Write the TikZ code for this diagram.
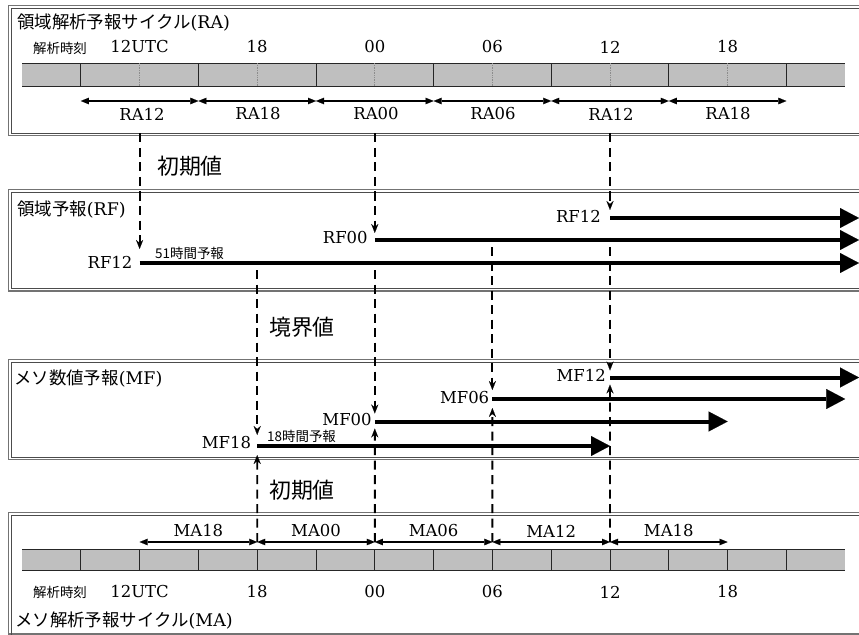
\documentclass[tikz,border=0pt]{standalone}
\usepackage{fontspec}
\setmainfont{DejaVu Serif}
\newfontfamily\jp{Noto Sans CJK JP}
\usetikzlibrary{arrows.meta,calc}
\begin{document}
\begin{tikzpicture}[x=1bp,y=-1bp,
  pouter/.style={draw=black!55, line width=1.3bp},
  pinner/.style={draw=black!70, line width=0.7bp},
  barfill/.style={fill=black!25},
  barline/.style={draw=black!85, line width=0.9bp},
  minor/.style={draw=black!45, line width=0.7bp, densely dotted},
  ttl/.style={inner sep=0, anchor=west, font=\fontsize{16.5}{20}\selectfont},
  tm/.style={inner sep=0, font=\fontsize{16.5}{20}\selectfont},
  tag/.style={inner sep=0, font=\jp\fontsize{13.5}{15}\selectfont},
  big/.style={inner sep=0, font=\jp\fontsize{22}{24}\selectfont},
  fc/.style={line width=4bp, -{Triangle[length=19bp,width=20bp,line width=0.1bp]}},
  feed/.style={line width=1.9bp, dash pattern=on 9bp off 5.5bp, -{Stealth[length=9bp,width=7bp,inset=3bp,line width=0.1bp]}},
  span/.style={line width=1.3bp, {Triangle[length=8bp,width=6.5bp,line width=0.1bp]}-{Triangle[length=8bp,width=6.5bp,line width=0.1bp]}},
]
\useasboundingbox (0,0) rectangle (859,635);
\clip (0,0) rectangle (859,635);
\fill[white] (0,0) rectangle (859,635);

% ---------- panels ----------
\draw[pouter] (8.5,5.5) rectangle (890,135.5);
\draw[pinner] (11,8) rectangle (890,133);
\draw[pouter] (8.5,189.5) rectangle (890,291);
\draw[pinner] (11,192) rectangle (890,288.5);
\draw[pouter] (8.5,359.5) rectangle (890,459.5);
\draw[pinner] (11,362) rectangle (890,457);
\draw[pouter] (8.5,512.5) rectangle (890,634);
\draw[pinner] (11,515) rectangle (890,660);

% ---------- RA panel ----------
\node[ttl, font=\fontsize{17.5}{20}\selectfont] (raT) at (17,23) {{\jp 領域解析予報サイクル}(RA)};
\fill[barfill] (22,63.3) rectangle (845.2,86.7);
\draw[barline] (22,63.3) -- (845.2,63.3) (22,86.7) -- (845.2,86.7);
\foreach \k in {1,3,...,13} \draw[barline] ({22+58.8*\k},63.3) -- ++(0,23.4);
\foreach \k in {2,4,...,12} \draw[minor] ({22+58.8*\k},63.3) -- ++(0,23.4);

\node[tag] (raJ) at (60,48) {解析時刻};
\node[tm] (raH12) at (139.6,47) {12UTC};
\node[tm] (raH18) at (257.2,47) {18};
\node[tm] (raH00) at (374.8,47) {00};
\node[tm] (raH06) at (492.4,47) {06};
\node[tm] (raH12b) at (610,47) {12};
\node[tm] (raH18b) at (727.6,47) {18};

\foreach \k in {1,3,...,13} \coordinate (ra\k) at ({22+58.8*\k},101);
\draw[span] (ra1) -- (ra3);
\draw[span] (ra3) -- (ra5);
\draw[span] (ra5) -- (ra7);
\draw[span] (ra7) -- (ra9);
\draw[span] (ra9) -- (ra11);
\draw[span] (ra11) -- (ra13);
\node[tm] (raL1) at (142,114) {RA12};
\node[tm] (raL2) at (258,114) {RA18};
\node[tm] (raL3) at (376,114) {RA00};
\node[tm] (raL4) at (493,114) {RA06};
\node[tm] (raL5) at (611,114) {RA12};
\node[tm] (raL6) at (728,114) {RA18};

\coordinate (raf12) at (139.6,133.5);
\coordinate (raf00) at (374.8,133.5);
\coordinate (raf12b) at (610,133.5);

\node[big] (init1) at (190,166) {初期値};

% ---------- RF panel ----------
\node[ttl, font=\fontsize{17.5}{20}\selectfont] (rfT) at (17,210) {{\jp 領域予報}(RF)};
\coordinate (rf12) at (139.6,263);
\coordinate (rf00) at (374.8,240);
\coordinate (rf12b) at (610,218);
\coordinate (rfe1) at (859,263);
\coordinate (rfe2) at (859,240);
\coordinate (rfe3) at (859,218);
\draw[fc] (rf12) -- (rfe1);
\draw[fc] (rf00) -- (rfe2);
\draw[fc] (rf12b) -- (rfe3);
\node[tm, anchor=east] (rfL1) at ($(rf12)+(-7,-1)$) {RF12};
\node[tm, anchor=east] (rfL2) at ($(rf00)+(-7,-2)$) {RF00};
\node[tm, anchor=east] (rfL3) at ($(rf12b)+(-9,-2)$) {RF12};
\node[tag, anchor=west] (rfN) at (155,253) {51時間予報};

\draw[feed] (raf12) -- ($(rf12)+(0,-14)$);
\draw[feed] (raf00) -- ($(rf00)+(0,-7)$);
\draw[feed] (raf12b) -- ($(rf12b)+(0,-8)$);

\coordinate (rfb18) at (257.2,270);
\coordinate (rfb00) at (374.8,270);
\coordinate (rfb06) at (492.4,247);
\coordinate (rfb12) at (610,247);

\node[big] (bnd) at (302,327) {境界値};

% ---------- MF panel ----------
\node[ttl, font=\fontsize{17.5}{20}\selectfont] (mfT) at (14,379) {{\jp メソ数値予報}(MF)};
\coordinate (mf18) at (257.2,446);
\coordinate (mf00) at (374.8,421.5);
\coordinate (mf06) at (492.4,399);
\coordinate (mf12) at (610,377.5);
\coordinate (mfe18) at (610,446);
\coordinate (mfe00) at (727.6,421.5);
\coordinate (mfe06) at (845.2,399);
\coordinate (mfe12) at (859,377.5);
\draw[fc] (mf18) -- (mfe18);
\draw[fc] (mf00) -- (mfe00);
\draw[fc] (mf06) -- (mfe06);
\draw[fc] (mf12) -- (mfe12);
\node[tm, anchor=east] (mfL18) at ($(mf18)+(-6,-3)$) {MF18};
\node[tm, anchor=east] (mfL00) at ($(mf00)+(-3,-2)$) {MF00};
\node[tm, anchor=east] (mfL06) at ($(mf06)+(-3,-1)$) {MF06};
\node[tm, anchor=east] (mfL12) at ($(mf12)+(-4,-2)$) {MF12};
\node[tag, anchor=west] (mfN) at (267,436) {18時間予報};

\draw[feed] (rfb18) -- ($(mf18)+(0,-11)$);
\draw[feed] (rfb00) -- ($(mf00)+(0,-8)$);
\draw[feed] (rfb06) -- ($(mf06)+(0,-9)$);
\draw[feed] (rfb12) -- ($(mf12)+(0,-7)$);

\node[big] (init2) at (302,490) {初期値};

% ---------- MA panel ----------
\foreach \k in {2,4,...,12} \coordinate (ma\k) at ({22+58.8*\k},542);
\draw[span] (ma2) -- (ma4);
\draw[span] (ma4) -- (ma6);
\draw[span] (ma6) -- (ma8);
\draw[span] (ma8) -- (ma10);
\draw[span] (ma10) -- (ma12);
\node[tm] (maL1) at (198.4,531) {MA18};
\node[tm] (maL2) at (316,531) {MA00};
\node[tm] (maL3) at (433.6,531) {MA06};
\node[tm] (maL4) at (551.2,531) {MA12};
\node[tm] (maL5) at (668.8,531) {MA18};

\draw[feed] (ma4) -- ($(mf18)+(0,9)$);
\draw[feed] (ma6) -- ($(mf00)+(0,7)$);
\draw[feed] (ma8) -- ($(mf06)+(0,9)$);
\draw[feed] (ma10) -- ($(mf12)+(0,7)$);

\fill[barfill] (22,549) rectangle (845.2,570);
\draw[barline] (22,549) -- (845.2,549) (22,570) -- (845.2,570);
\foreach \k in {1,...,13} \draw[barline] ({22+58.8*\k},549) -- ++(0,21);

\node[tag] (maJ) at (60,592) {解析時刻};
\node[tm] (maH12) at (139.6,592) {12UTC};
\node[tm] (maH18) at (257.2,592) {18};
\node[tm] (maH00) at (374.8,592) {00};
\node[tm] (maH06) at (492.4,592) {06};
\node[tm] (maH12b) at (610,592) {12};
\node[tm] (maH18b) at (727.6,592) {18};
\node[ttl, font=\fontsize{17.5}{20}\selectfont] (maT) at (15,621) {{\jp メソ解析予報サイクル}(MA)};
\end{tikzpicture}
\end{document}
